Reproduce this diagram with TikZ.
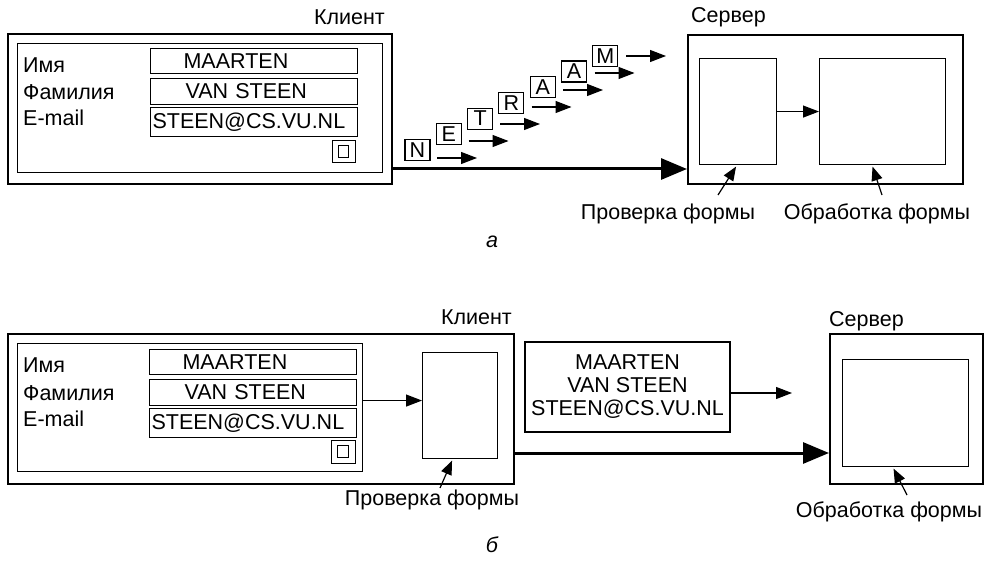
\documentclass[tikz,border=0pt]{standalone}
\usepackage{fontspec}
\setmainfont{Liberation Sans}
\usetikzlibrary{arrows.meta}

\tikzset{
  every node/.style={font=\fontsize{21.5}{23}\selectfont, inner sep=0pt},
  frame/.style={draw, line width=1.8pt, anchor=north west},
  pane/.style={draw, line width=1.1pt, anchor=north west},
  field/.style={draw, line width=1.1pt, anchor=north west, text width=203pt,
    align=left, inner xsep=2pt, minimum width=207pt},
  letter/.style={draw, line width=1.1pt, minimum width=25pt, minimum height=21pt},
  arr/.style={line width=1.2pt, -{Triangle[length=16pt, width=12pt]}},
  ptr/.style={line width=1.2pt, -{Triangle[length=14pt, width=11pt]}},
  fat/.style={line width=3pt, -{Triangle[length=26pt, width=21pt]}},
  caption/.style={font=\fontsize{21.5}{23}\selectfont\itshape},
}

\begin{document}
\begin{tikzpicture}[x=1pt, y=-1pt]
	\useasboundingbox (0,0) rectangle (989,564);

	% ---------- а ----------
	% клиент
	\node[anchor=east] (kla) at (385,17) {Клиент};
	\node[frame, minimum width=384pt, minimum height=150pt] (cla) at (7,33) {};
	\node[pane, minimum width=365pt, minimum height=129pt] (fma) at (17,43) {};

	% форма
	\node[anchor=west] (na1) at (23,65) {Имя};
	\node[anchor=west] (na2) at (23,92) {Фамилия};
	\node[anchor=west] (na3) at (23,118) {E-mail};
	\node[field, minimum height=25pt] (fa1) at (150,48) {\hspace*{31pt}MAARTEN};
	\node[field, minimum height=26pt] (fa2) at (150,78) {\hspace*{33pt}VAN STEEN};
	\node[field, minimum height=29pt] (fa3) at (150,107) {STEEN@CS.VU.NL};
	\node[pane, minimum width=23pt, minimum height=22pt] (bta) at (332,140) {};
	\node[pane, minimum width=10pt, minimum height=12pt] (btia) at (338,145) {};

	% буквы по одной
	\foreach \c [count=\i from 0] in {N,E,T,R,A,A,M} {
		\node[letter] (ch\i) at (417.5+31.3*\i, 150-15.7*\i) {\c};
		\coordinate (cs\i) at (437+31.5*\i, 158-17*\i);
		\coordinate (ce\i) at (477+31.5*\i, 158-17*\i);
		\draw[arr] (cs\i) -- (ce\i);
	}

	% сервер
	\node[anchor=west] (sra) at (691,17) {Сервер};
	\node[frame, minimum width=275pt, minimum height=149pt] (sva) at (687,34) {};
	\node[pane, minimum width=77pt, minimum height=106pt] (pra) at (699,58) {};
	\node[pane, minimum width=126pt, minimum height=106pt] (oba) at (819,58) {};
	\draw[arr] (pra) -- (oba);

	\coordinate (ta) at (391,169);
	\draw[fat] (ta) -- (ta -| sva.west);

	\node (lpa) at (668,214) {Проверка формы};
	\node (loa) at (877,214) {Обработка формы};
	\coordinate (ppa) at (718,195);
	\coordinate (poa) at (882,195);
	\draw[ptr] (ppa) -- ([xshift=-2pt,yshift=-1.5pt]pra.south);
	\draw[ptr] (poa) -- ([xshift=-10pt,yshift=-1.5pt]oba.south);

	\node[caption] (capa) at (492,242) {а};

	% ---------- б ----------
	% клиент
	\node[anchor=east] (klb) at (512,317) {Клиент};
	\node[frame, minimum width=506pt, minimum height=150pt] (clb) at (7,333) {};
	\node[pane, minimum width=345pt, minimum height=128pt] (fmb) at (17,343) {};

	% форма
	\node[anchor=west] (nb1) at (23,365) {Имя};
	\node[anchor=west] (nb2) at (23,393) {Фамилия};
	\node[anchor=west] (nb3) at (23,419) {E-mail};
	\node[field, minimum height=25pt] (fb1) at (149,349) {\hspace*{31pt}MAARTEN};
	\node[field, minimum height=26pt] (fb2) at (149,379) {\hspace*{33pt}VAN STEEN};
	\node[field, minimum height=29pt] (fb3) at (149,408) {STEEN@CS.VU.NL};
	\node[pane, minimum width=24pt, minimum height=23pt] (btb) at (331,440) {};
	\node[pane, minimum width=11pt, minimum height=12pt] (btib) at (337,445) {};

	% проверка на клиенте
	\node[pane, minimum width=75pt, minimum height=106pt] (prb) at (422,352) {};
	\draw[arr] ([yshift=7pt]fmb.east) -- ([yshift=7pt]fmb.east -| prb.west);
	\node (lpb) at (432,500) {Проверка формы};
	\coordinate (ppb) at (440,488);
	\draw[ptr] (ppb) -- ([xshift=-8pt,yshift=-1.5pt]prb.south);

	% сообщение
	\node[draw, line width=1.1pt, minimum width=205pt, minimum height=90pt,
		align=center] (msg) at (627.5,387) {MAARTEN\\VAN STEEN\\STEEN@CS.VU.NL};
	\coordinate (mse) at (792,393);
	\draw[arr] (msg.east |- mse) -- (mse);

	% сервер
	\node[anchor=west] (srb) at (829,321) {Сервер};
	\node[frame, minimum width=153pt, minimum height=150pt] (svb) at (829,333) {};
	\node[pane, minimum width=126pt, minimum height=107pt] (obb) at (842,359) {};

	\coordinate (tb) at (513,453);
	\draw[fat] (tb) -- (tb -| svb.west);

	\node (lob) at (889,512) {Обработка формы};
	\coordinate (pob) at (907,495);
	\draw[ptr] (pob) -- ([xshift=-12pt,yshift=-1.5pt]obb.south);

	\node[caption] (capb) at (492,545) {б};
\end{tikzpicture}
\end{document}
